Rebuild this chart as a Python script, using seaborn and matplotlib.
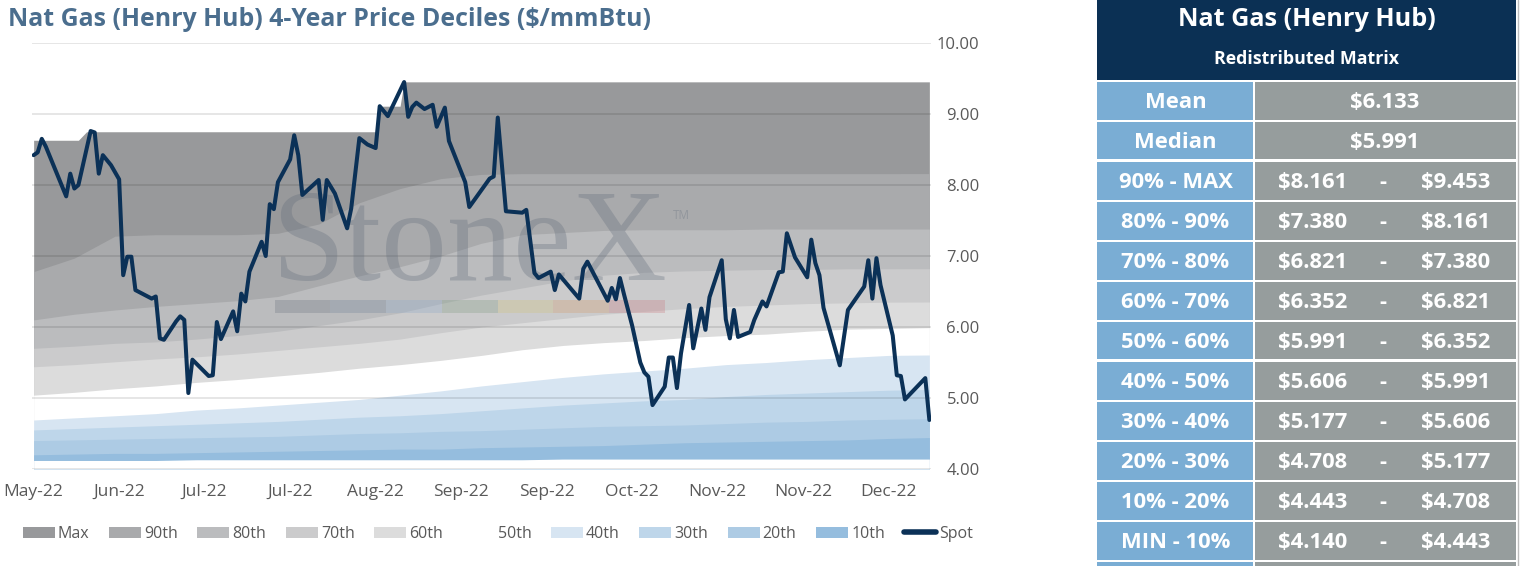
import numpy as np
import pandas as pd
import matplotlib
matplotlib.use("Agg")
import matplotlib.pyplot as plt
from matplotlib.patches import Patch, Rectangle
from matplotlib.lines import Line2D
import seaborn as sns

spot_day = [0, 1, 2, 3, 8, 9, 10, 11, 14, 15, 16, 17, 19, 21, 22, 23, 24, 25, 29, 30,
            31, 32, 35, 36, 37, 38, 39, 43, 44, 45, 46, 49, 50, 51, 52, 53, 56, 57, 58, 59,
            60, 63, 64, 65, 66, 70, 71, 72, 74, 77, 78, 80, 82, 84, 85, 87, 91, 92, 93, 94,
            96, 98, 99, 101, 102, 106, 107, 112, 113, 114, 116, 120, 121, 123, 124, 127, 128, 129, 134, 135,
            136, 138, 141, 142, 143, 144, 145, 147, 149, 150, 151, 152, 155, 156, 157, 158, 159, 161, 162, 164,
            165, 166, 169, 170, 171, 172, 173, 176, 177, 179, 180, 183, 184, 185, 187, 190, 191, 192, 193, 194,
            198, 200, 204, 205, 206, 207, 208, 211, 212, 213, 214, 219, 220]
spot_price = [8.42, 8.46, 8.65, 8.54, 7.84, 8.16, 7.95, 8.00, 8.76, 8.74, 8.16, 8.42, 8.28, 8.08, 6.73, 6.99, 6.99, 6.52, 6.40, 6.43,
              5.84, 5.82, 6.08, 6.15, 6.10, 5.07, 5.54, 5.31, 5.32, 6.07, 5.83, 6.22, 5.94, 6.47, 6.36, 6.78, 7.20, 7.00, 7.73, 7.66,
              8.04, 8.36, 8.70, 8.42, 7.86, 8.07, 7.51, 8.07, 7.88, 7.39, 7.67, 8.66, 8.57, 8.52, 9.11, 8.97, 9.45, 8.96, 9.10, 9.16,
              9.07, 9.13, 8.82, 9.09, 8.62, 8.04, 7.69, 8.09, 8.12, 8.95, 7.63, 7.61, 7.65, 6.76, 6.69, 6.78, 6.52, 6.74, 6.40, 6.82,
              6.92, 6.70, 6.37, 6.55, 6.39, 6.69, 6.46, 6.02, 5.50, 5.36, 5.30, 4.90, 5.16, 5.57, 5.57, 5.14, 5.63, 6.31, 5.70, 6.26,
              5.96, 6.42, 6.94, 6.11, 5.84, 6.24, 5.86, 5.93, 6.10, 6.36, 6.29, 6.77, 6.78, 7.32, 6.98, 6.70, 7.23, 6.90, 6.73, 6.27,
              5.46, 6.24, 6.57, 6.94, 6.40, 6.97, 6.59, 5.88, 5.32, 5.31, 4.98, 5.28, 4.69]

# ---- running decile boundaries (upper edge of each band)
band_day = [0, 10, 20, 30, 40, 50, 60, 70, 80, 90, 100, 110, 120, 130, 140, 150, 160, 170, 180, 190, 200, 210, 220]
p90 = [6.78, 6.97, 7.28, 7.30, 7.30, 7.30, 7.32, 7.45, 7.75, 7.95, 8.09, 8.15, 8.16, 8.16, 8.16, 8.16, 8.16, 8.16, 8.16, 8.16, 8.16, 8.16, 8.161]
p80 = [6.10, 6.18, 6.24, 6.29, 6.33, 6.37, 6.43, 6.58, 6.72, 6.85, 7.00, 7.18, 7.30, 7.33, 7.36, 7.37, 7.37, 7.37, 7.38, 7.38, 7.38, 7.38, 7.380]
p70 = [5.70, 5.73, 5.77, 5.79, 5.83, 5.88, 5.94, 6.02, 6.10, 6.20, 6.33, 6.45, 6.55, 6.65, 6.73, 6.77, 6.79, 6.80, 6.81, 6.81, 6.82, 6.82, 6.821]
p60 = [5.44, 5.47, 5.51, 5.55, 5.58, 5.62, 5.67, 5.72, 5.77, 5.83, 5.92, 6.00, 6.06, 6.12, 6.18, 6.22, 6.26, 6.29, 6.31, 6.33, 6.34, 6.35, 6.352]
p50 = [5.04, 5.08, 5.13, 5.17, 5.22, 5.26, 5.31, 5.36, 5.42, 5.47, 5.53, 5.60, 5.68, 5.74, 5.78, 5.81, 5.85, 5.88, 5.90, 5.94, 5.97, 5.98, 5.991]
p40 = [4.69, 4.72, 4.75, 4.78, 4.83, 4.86, 4.90, 4.94, 4.98, 5.04, 5.10, 5.17, 5.23, 5.29, 5.34, 5.38, 5.42, 5.47, 5.50, 5.54, 5.57, 5.60, 5.606]
p30 = [4.55, 4.57, 4.59, 4.61, 4.63, 4.65, 4.67, 4.70, 4.73, 4.75, 4.78, 4.82, 4.86, 4.90, 4.93, 4.96, 4.98, 5.02, 5.05, 5.07, 5.09, 5.11, 5.12]
p20 = [4.40, 4.41, 4.42, 4.43, 4.44, 4.45, 4.46, 4.48, 4.50, 4.51, 4.53, 4.54, 4.56, 4.58, 4.60, 4.61, 4.62, 4.64, 4.66, 4.67, 4.69, 4.70, 4.708]
p10 = [4.20, 4.21, 4.22, 4.22, 4.23, 4.24, 4.25, 4.26, 4.27, 4.28, 4.28, 4.30, 4.31, 4.32, 4.33, 4.35, 4.37, 4.38, 4.39, 4.40, 4.41, 4.43, 4.443]
p_min = [4.12, 4.12, 4.12, 4.12, 4.13, 4.13, 4.13, 4.13, 4.13, 4.13, 4.13, 4.13, 4.13, 4.14, 4.14, 4.14, 4.14, 4.14, 4.14, 4.14, 4.14, 4.14, 4.140]
max_day = [0, 11, 13, 84, 85, 90, 91, 220]
p_max = [8.63, 8.63, 8.75, 8.75, 9.11, 9.11, 9.453, 9.453]

tick_labels = ["May-22", "Jun-22", "Jul-22", "Jul-22", "Aug-22", "Sep-22",
               "Sep-22", "Oct-22", "Nov-22", "Nov-22", "Dec-22"]
band_names = ["Max", "90th", "80th", "70th", "60th", "50th", "40th", "30th", "20th", "10th"]
band_colors = ["#98999b", "#a9aaac", "#bbbcbe", "#cbcbcc", "#dcdcdc", "#ffffff",
               "#d7e5f2", "#bed6ea", "#adcbe4", "#95bdde"]

# ---- table
row_labels = ["90% - MAX", "80% - 90%", "70% - 80%", "60% - 70%", "50% - 60%",
              "40% - 50%", "30% - 40%", "20% - 30%", "10% - 20%", "MIN - 10%"]
row_low = [8.161, 7.380, 6.821, 6.352, 5.991, 5.606, 5.177, 4.708, 4.443, 4.140]
row_high = [9.453, 8.161, 7.380, 6.821, 6.352, 5.991, 5.606, 5.177, 4.708, 4.443]
mean_val = 6.133
median_val = 5.991

sns.set_theme(style="white")
plt.rcParams["font.family"] = ["Open Sans", "DejaVu Sans"]

NAVY = "#0b3157"
GREY_TXT = "#595959"

fig = plt.figure(figsize=(15.2, 5.66), dpi=100)
ax = fig.add_axes([32 / 1520, 97 / 566, 899 / 1520, 426 / 566])

# painter's order: each band filled from the floor up to its upper edge
ax.fill_between(max_day, 4, p_max, color=band_colors[0], lw=0, zorder=1)
for vals, col in zip([p90, p80, p70, p60, p50, p40, p30, p20, p10], band_colors[1:]):
    ax.fill_between(band_day, 4, vals, color=col, lw=0, zorder=1)
ax.fill_between(band_day, 4, p_min, color="white", lw=0, zorder=1)

# watermark
ax.text(0.486, 0.444, "StoneX", transform=ax.transAxes, ha="center", va="baseline",
        fontsize=95, family="Liberation Serif", color="#5d6878", alpha=0.3, zorder=3)
ax.text(0.722, 0.594, "TM", transform=ax.transAxes, ha="center", va="center",
        fontsize=8.5, color="#5d6878", alpha=0.3, zorder=3)
bar_cols = ["#6d7580", "#6f8299", "#8fa9c8", "#7f9c82", "#cfc27a", "#d49a6a", "#c97a80"]
for i, c in enumerate(bar_cols):
    ax.add_patch(Rectangle((0.270 + i * 0.062, 0.366), 0.062, 0.031, transform=ax.transAxes,
                           facecolor=c, edgecolor="none", alpha=0.3, zorder=3))

sns.lineplot(x=spot_day, y=spot_price, ax=ax, color=NAVY, lw=2.9, zorder=5)

ax.set_xlim(-0.4, 220.4)
ax.set_ylim(4, 10)
ax.set_yticks(np.arange(4, 10.5, 1))
ax.set_yticklabels([f"{v:.2f}" for v in np.arange(4, 10.5, 1)])
ax.set_xticks(np.arange(0, 211, 21))
ax.set_xticklabels(tick_labels)
ax.yaxis.tick_right()
ax.tick_params(axis="y", length=0, pad=35, labelsize=12, colors=GREY_TXT)
for lab in ax.get_yticklabels():
    lab.set_horizontalalignment("right")
ax.tick_params(axis="x", length=0, pad=11, labelsize=12.5, colors=GREY_TXT)
ax.grid(axis="y", color="black", alpha=0.13, lw=1.1)
ax.grid(axis="x", visible=False)
ax.set_axisbelow(False)
for s in ax.spines.values():
    s.set_visible(False)
ax.set_xlabel("")
ax.set_ylabel("")

fig.text(8 / 1520, 1 - 20 / 566, "Nat Gas (Henry Hub) 4-Year Price Deciles ($/mmBtu)",
         ha="left", va="center", fontsize=17.9, fontweight="bold", color="#4b6e8e")

handles = [Patch(facecolor=c, edgecolor="none") for c in band_colors]
handles.append(Line2D([], [], color=NAVY, lw=4))
fig.legend(handles, band_names + ["Spot"], loc="center", bbox_to_anchor=(498 / 1520, 1 - 534 / 566),
           ncol=11, frameon=False, fontsize=11.5, handlelength=2.0, handleheight=0.7,
           handletextpad=0.2, columnspacing=1.22, labelcolor=GREY_TXT, borderaxespad=0)

# ---- matrix on the right, drawn in pixel coordinates
tax = fig.add_axes([0, 0, 1, 1])
tax.set_xlim(0, 1520)
tax.set_ylim(566, 0)
tax.axis("off")
BLUE = "#7aadd4"
GRAY = "#969d9d"
tax.add_patch(Rectangle((1097, 0), 419, 80, facecolor="#0b3054", edgecolor="none"))
tax.text(1307, 19, "Nat Gas (Henry Hub)", ha="center", va="center", color="white",
         fontsize=18.2, fontweight="bold")
tax.text(1307, 59, "Redistributed Matrix", ha="center", va="center", color="white",
         fontsize=12.8, fontweight="bold")

labels_all = ["Mean", "Median"] + row_labels
fs = 15.8
for k, lab in enumerate(labels_all):
    top = 82 + 40 * k
    h = 37 if k in (1, 6) else 38
    tax.add_patch(Rectangle((1097, top), 156, h, facecolor=BLUE, edgecolor="none"))
    tax.add_patch(Rectangle((1255, top), 261, h, facecolor=GRAY, edgecolor="none"))
    yc = top + 20
    tax.text(1175.5, yc, lab, ha="center", va="center", color="white", fontsize=fs, fontweight="bold")
    if k == 0:
        tax.text(1385, yc, f"${mean_val:.3f}", ha="center", va="center", color="white",
                 fontsize=fs, fontweight="bold")
    elif k == 1:
        tax.text(1385, yc, f"${median_val:.3f}", ha="center", va="center", color="white",
                 fontsize=fs, fontweight="bold")
    else:
        tax.text(1313, yc, f"${row_low[k - 2]:.3f}", ha="center", va="center", color="white",
                 fontsize=fs, fontweight="bold")
        tax.text(1383, yc, "-", ha="center", va="center", color="white", fontsize=fs, fontweight="bold")
        tax.text(1456, yc, f"${row_high[k - 2]:.3f}", ha="center", va="center", color="white",
                 fontsize=fs, fontweight="bold")
tax.add_patch(Rectangle((1097, 562), 156, 4, facecolor=BLUE, edgecolor="none"))
tax.add_patch(Rectangle((1255, 562), 261, 4, facecolor=GRAY, edgecolor="none"))
tax.plot([1517.5, 1517.5], [0, 566], color="#bdbdbd", lw=1)

fig.savefig("out.png", dpi=100)
